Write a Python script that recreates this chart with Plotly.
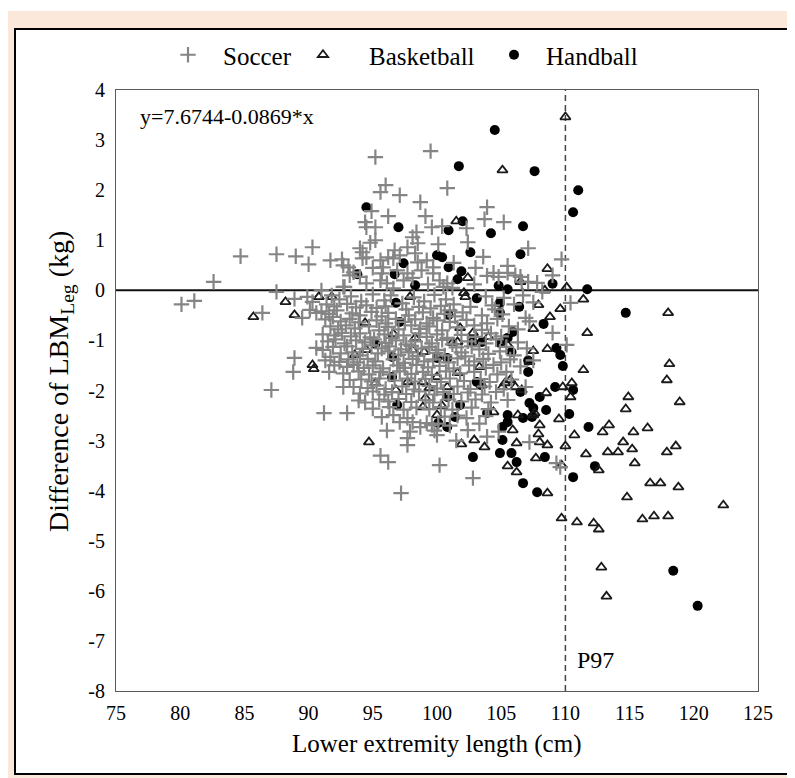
import plotly.graph_objects as go

# ---------------- data ----------------
soccer_x = [
    80.1, 81.1, 82.6, 84.7, 87.5, 89.0, 90.3, 90.0, 87.5, 88.9, 86.4, 89.5, 88.9, 88.8, 87.1, 89.9, 90.3, 91.0, 91.8, 92.8, 90.1, 90.6,
    95.2, 99.5, 96.0, 95.6, 97.1, 100.8, 98.7, 94.9, 96.2, 99.1, 94.4, 94.5, 95.2, 95.2, 99.6, 100.4, 103.9, 103.7, 105.2, 102.3, 102.4, 107.1, 103.6, 109.7, 98.4, 100.1,
    91.7, 92.6, 92.7, 93.1, 93.2, 93.5, 94.0, 94.2, 94.2, 94.5, 95.6, 95.8, 95.7, 96.2, 96.7, 96.6, 97.1, 97.7, 98.1, 98.5, 98.3, 98.5, 98.8, 97.7, 97.4, 99.2, 99.7, 99.7, 100.2, 100.8, 100.5, 95.6, 96.1, 96.6, 94.5, 94.0, 92.7, 103.9, 104.4, 104.8, 105.5, 105.5, 106.1, 106.5, 106.6, 107.1, 107.8, 109.0, 108.2, 103.0, 101.3, 102.9, 98.1, 99.3, 95.0, 94.8, 96.9, 101.2,
    92.4, 93.3, 94.1, 95.0, 95.9, 96.4, 97.3, 98.2, 99.0, 99.8, 100.7, 101.3, 103.8, 104.3, 105.2, 106.7, 107.5, 91.4, 92.0, 93.0, 93.7, 94.5, 95.3, 96.0, 97.6, 98.6, 99.5, 100.3, 101.0, 102.6, 104.5, 106.0, 110.4,
    91.0, 91.6, 92.2, 93.4, 94.0, 94.9, 95.7, 96.2, 97.8, 98.9, 99.7, 100.6, 101.4, 102.0, 103.5, 105.1, 106.9, 91.3, 91.9, 92.5, 93.2, 93.9, 95.3, 96.0, 96.8, 97.5, 98.3, 99.2, 100.0, 101.0, 102.3, 103.9, 104.7, 107.2,
    91.7, 92.3, 92.9, 93.6, 94.7, 95.5, 96.2, 97.0, 98.0, 98.7, 99.4, 100.4, 101.6, 102.9, 103.5, 105.6, 106.3, 109.0, 91.1, 92.0, 92.6, 93.3, 94.0, 94.8, 95.9, 96.5, 97.4, 98.6, 99.2, 100.0, 100.8, 101.9, 103.0, 104.2, 105.0,
    91.5, 92.1, 92.8, 93.7, 94.4, 95.1, 96.0, 96.8, 97.6, 98.3, 99.6, 100.4, 101.2, 102.4, 103.8, 104.6, 106.3, 90.6, 91.1, 91.9, 93.0, 94.2, 94.9, 95.7, 96.3, 97.2, 98.0, 98.8, 99.4, 100.1, 101.5, 102.7, 103.3, 105.4, 107.0,
    91.7, 92.5, 93.4, 94.0, 95.4, 96.2, 97.0, 97.8, 98.5, 99.9, 100.6, 101.9, 102.2, 104.0, 104.9, 106.0, 91.3, 92.4, 93.1, 93.8, 94.6, 95.2, 96.6, 97.4, 98.1, 99.0, 99.7, 100.9, 101.6, 102.9, 103.6, 105.0, 105.7, 107.5,
    92.0, 93.0, 93.5, 94.3, 95.0, 95.8, 96.9, 97.5, 98.4, 99.3, 100.2, 101.3, 102.5, 103.8, 104.4, 106.5, 91.6, 92.7, 93.2, 93.9, 94.7, 95.6, 96.3, 97.1, 98.0, 98.9, 99.6, 100.7, 101.8, 102.9, 104.7, 105.4,
    93.5, 92.7, 94.1, 94.9, 95.5, 96.7, 97.7, 98.3, 99.1, 100.3, 101.0, 102.1, 103.4, 104.1, 105.8, 94.6, 95.3, 96.0, 97.3, 98.2, 99.4, 100.0, 101.6, 102.6, 103.7, 105.2, 106.9,
    94.0, 95.0, 95.9, 96.5, 97.6, 98.6, 99.8, 100.5, 101.3, 102.4, 103.5, 104.6, 93.9, 94.4, 95.5, 96.2, 97.0, 98.0, 99.1, 99.7, 100.9, 101.9, 103.0, 104.2, 105.5,
    95.0, 96.3, 97.4, 98.4, 99.4, 100.3, 101.2, 102.7, 104.0, 93.0, 91.2, 95.7, 96.6, 97.1, 97.7, 98.1, 98.7, 99.2, 99.6, 100.6, 101.6, 102.3, 103.8,
    100.1, 101.0, 103.3, 96.1, 97.9, 99.8, 102.4, 104.8, 97.7, 97.7, 100.0, 101.5, 103.9, 95.6, 96.2, 100.2, 102.8, 97.2, 109.3, 109.6, 107.2, 110.1,
]
soccer_y = [
    -0.28, -0.21, 0.17, 0.68, 0.72, 0.68, 0.86, 0.52, -0.03, -0.17, -0.45, -0.55, -1.35, -1.63, -1.99, -0.13, -0.23, 0.00, -0.10, 0.07, -0.39, -0.45,
    2.66, 2.78, 2.10, 1.96, 1.90, 2.04, 1.76, 1.58, 1.48, 1.48, 1.36, 1.26, 1.26, 1.00, 1.26, 1.28, 1.66, 1.42, 1.36, 1.24, 0.96, 0.84, 0.67, 0.62, 1.16, 0.92,
    0.60, 0.62, 0.50, 0.46, 0.30, 0.36, 0.84, 0.76, 0.64, 0.66, 0.60, 0.46, 0.34, 0.66, 0.80, 0.64, 0.70, 0.86, 1.06, 0.94, 0.74, 0.56, 0.40, 0.34, 0.20, 0.60, 0.46, 0.34, 0.20, 0.14, 0.07, 0.20, 0.14, 0.04, 0.14, 0.27, 0.07, 0.29, 0.35, 0.27, 0.49, 0.35, 0.30, 0.27, 0.17, 0.17, 0.15, 0.30, -0.03, 0.45, 0.55, 0.12, 0.25, 0.12, 0.45, 0.95, 0.40, 0.05,
    -0.18, -0.12, -0.22, -0.08, -0.20, -0.10, -0.26, -0.14, -0.22, -0.09, -0.18, -0.28, -0.12, -0.30, -0.15, -0.10, -0.24, -0.28, -0.32, -0.27, -0.34, -0.30, -0.35, -0.32, -0.38, -0.33, -0.36, -0.31, -0.40, -0.33, -0.38, -0.28, -0.25,
    -0.42, -0.47, -0.40, -0.46, -0.50, -0.43, -0.52, -0.45, -0.50, -0.44, -0.55, -0.47, -0.52, -0.44, -0.50, -0.48, -0.55, -0.58, -0.53, -0.62, -0.57, -0.64, -0.60, -0.66, -0.57, -0.63, -0.58, -0.66, -0.60, -0.63, -0.59, -0.66, -0.57, -0.62,
    -0.72, -0.78, -0.70, -0.76, -0.72, -0.80, -0.73, -0.78, -0.70, -0.77, -0.72, -0.80, -0.74, -0.70, -0.79, -0.72, -0.78, -0.85, -0.88, -0.90, -0.85, -0.92, -0.86, -0.94, -0.88, -0.95, -0.90, -0.86, -0.93, -0.88, -0.95, -0.89, -0.93, -0.86, -0.92,
    -1.02, -0.98, -1.06, -1.00, -1.04, -0.98, -1.05, -1.00, -1.08, -1.02, -1.06, -0.99, -1.08, -1.02, -1.06, -0.98, -1.04, -1.15, -1.19, -1.13, -1.12, -1.17, -1.10, -1.16, -1.12, -1.18, -1.11, -1.16, -1.13, -1.19, -1.14, -1.12, -1.18, -1.13, -1.16,
    -1.33, -1.26, -1.24, -1.30, -1.26, -1.22, -1.29, -1.24, -1.31, -1.25, -1.30, -1.24, -1.32, -1.27, -1.22, -1.30, -1.40, -1.43, -1.38, -1.44, -1.37, -1.42, -1.38, -1.45, -1.37, -1.42, -1.38, -1.44, -1.36, -1.42, -1.37, -1.44, -1.38, -1.40,
    -1.50, -1.53, -1.49, -1.55, -1.50, -1.56, -1.50, -1.55, -1.49, -1.54, -1.51, -1.56, -1.50, -1.55, -1.49, -1.52, -1.63, -1.66, -1.79, -1.62, -1.68, -1.63, -1.68, -1.62, -1.67, -1.63, -1.69, -1.62, -1.66, -1.63, -1.68, -1.63,
    -1.93, -1.93, -1.78, -1.82, -1.76, -1.80, -1.76, -1.82, -1.77, -1.83, -1.76, -1.81, -1.77, -1.83, -1.78, -1.95, -1.90, -1.97, -1.92, -1.98, -1.91, -1.96, -1.92, -1.97, -1.92, -1.97, -1.93,
    -2.06, -2.02, -2.08, -2.03, -2.07, -2.02, -2.08, -2.03, -2.07, -2.04, -2.08, -2.03, -2.20, -2.24, -2.18, -2.22, -2.17, -2.23, -2.19, -2.24, -2.18, -2.22, -2.18, -2.24, -2.19,
    -2.36, -2.33, -2.38, -2.34, -2.37, -2.33, -2.38, -2.34, -2.37, -2.45, -2.45, -2.53, -2.49, -2.63, -2.55, -2.63, -2.73, -2.65, -2.69, -2.52, -2.50, -2.55, -2.51,
    -2.66, -2.70, -2.66, -2.80, -2.82, -2.80, -2.79, -2.82, -2.95, -3.09, -2.89, -3.00, -2.92, -3.30, -3.43, -3.49, -3.75, -4.05, -3.45, -3.53, -3.03, -1.09,
]

basketball_x = [
    110.0, 105.1, 101.5, 108.6, 102.4, 106.5, 108.4, 110.1, 111.4, 102.1,
    88.2, 85.7, 88.9, 90.8, 91.8, 90.3, 90.4, 93.6, 95.2, 96.8,
    97.7, 94.4, 96.6, 98.3, 94.5, 94.7, 98.9, 99.4, 99.1, 98.9,
    100.4, 100.0, 98.1, 99.0, 100.0, 101.2, 101.6, 101.8, 102.2, 101.6,
    101.9, 100.8, 97.9, 107.9, 109.6, 108.8, 107.5, 111.7, 104.0, 102.8,
    105.5, 107.5, 108.6, 107.2, 111.4, 103.3, 105.7, 105.1, 106.1, 106.6,
    103.5, 105.3, 109.8, 110.5, 110.4, 108.5, 107.6, 109.5, 112.9, 113.4,
    110.7, 108.0, 107.9, 108.0, 108.6, 105.9, 106.2, 106.3, 104.4, 103.7,
    102.9, 105.5, 106.2, 107.7, 110.0, 111.6, 113.3, 114.1, 112.6, 109.7,
    108.6, 118.0, 118.1, 117.9, 114.9, 114.7, 118.9, 115.3, 116.4, 114.5,
    115.2, 117.9, 118.6, 115.4, 116.6, 117.4, 118.8, 114.8, 122.3, 116.0,
    116.9, 118.0, 109.7, 110.9, 112.2, 112.6, 112.8, 113.2, 107.5,
]
basketball_y = [
    3.46, 2.40, 1.38, 0.43, 0.25, 0.17, 0.00, 0.06, -0.18, -0.05,
    -0.23, -0.53, -0.49, -0.13, -0.13, -1.49, -1.57, -1.29, -1.85, -1.99,
    -1.83, -0.65, -0.87, -0.95, -1.19, -3.03, -1.83, -1.95, -2.15, -2.33,
    -2.31, -2.49, -1.19, -1.23, -1.73, -1.05, -1.03, -0.75, -0.13, -1.65,
    -3.07, -1.93, -0.13, -0.29, -0.37, -0.53, -0.77, -0.85, -0.93, -0.85,
    -1.09, -1.21, -1.17, -1.43, -1.59, -1.53, -1.79, -1.93, -1.93, -1.99,
    -1.89, -1.85, -1.93, -1.85, -2.13, -2.05, -2.45, -2.57, -2.83, -2.69,
    -2.89, -2.69, -2.87, -3.03, -3.09, -2.79, -3.05, -2.49, -2.43, -3.13,
    -2.99, -3.51, -3.63, -3.35, -3.11, -3.27, -3.23, -3.23, -3.59, -3.49,
    -4.05, -0.45, -1.47, -1.79, -2.13, -2.37, -2.23, -2.83, -2.75, -3.03,
    -3.17, -3.23, -3.11, -3.45, -3.85, -3.85, -3.93, -4.13, -4.29, -4.57,
    -4.51, -4.51, -4.55, -4.63, -4.65, -4.77, -5.53, -6.11, -2.49,
]

handball_x = [
    104.5, 101.7, 107.6, 111.0, 110.6, 94.5, 97.0, 102.0, 100.9, 104.2,
    106.7, 102.6, 106.5, 97.4, 100.0, 100.4, 100.9, 101.9, 101.6, 93.8,
    96.7, 98.3, 104.8, 105.5, 109.0, 111.7, 103.1, 96.8, 97.1, 95.2,
    96.5, 96.5, 96.9, 100.9, 106.4, 104.9, 104.9, 108.3, 105.9, 105.5,
    102.8, 103.5, 104.9, 105.8, 109.3, 109.6, 107.1, 109.8, 107.1, 103.1,
    103.4, 109.2, 110.6, 108.0, 106.5, 107.2, 107.5, 108.5, 110.3, 111.8,
    105.1, 105.1, 103.9, 105.5, 105.5, 106.7, 107.4, 102.8, 104.9, 105.8,
    106.2, 106.7, 108.4, 112.3, 110.6, 107.8, 114.7, 118.4, 120.3, 100.8,
    101.8, 101.4, 100.8, 100.1, 100.0, 100.8,
]
handball_y = [
    3.20, 2.48, 2.38, 2.00, 1.56, 1.66, 1.26, 1.38, 1.20, 1.14,
    1.28, 0.76, 0.72, 0.54, 0.70, 0.66, 0.46, 0.38, 0.22, 0.32,
    0.32, 0.10, 0.09, 0.02, 0.13, 0.02, -0.16, -0.25, -0.63, -1.07,
    -1.33, -1.73, -2.29, -0.49, -0.33, -0.25, -0.45, -0.67, -0.83, -0.95,
    -1.03, -1.03, -1.05, -1.23, -1.15, -1.29, -1.40, -1.51, -1.63, -1.83,
    -1.89, -1.93, -1.99, -2.13, -2.03, -2.25, -2.35, -2.39, -2.47, -2.73,
    -2.73, -2.99, -2.45, -2.49, -2.63, -2.55, -2.53, -3.33, -3.25, -3.25,
    -3.43, -3.85, -3.33, -3.51, -3.73, -4.03, -0.45, -5.60, -6.30, -2.13,
    -2.29, -2.53, -2.73, -2.65, -1.35, -1.35,
]

assert len(soccer_x) == len(soccer_y)
assert len(basketball_x) == len(basketball_y)
assert len(handball_x) == len(handball_y)

x_tick_vals = [75, 80, 85, 90, 95, 100, 105, 110, 115, 120, 125]
x_tick_text = ["75", "80", "85", "90", "95", "100", "105", "110", "115", "120", "125"]
y_tick_vals = [4, 3, 2, 1, 0, -1, -2, -3, -4, -5, -6, -7, -8]
y_tick_text = ["4", "3", "2", "1", "0", "-1", "-2", "-3", "-4", "-5", "-6", "-7", "-8"]
x_range = [75, 125]
y_range = [-8, 4]
p97_value = 110
reference_level = 0
fit_label = "y=7.6744-0.0869*x"
x_title = "Lower extremity length (cm)"
y_title = "Difference of LBM<sub>Leg</sub> (kg)"

# ---------------- figure ----------------
# The page body has an 8px margin, so the figure is offset by 8px; all
# layout positions below are given in screen pixels and shifted back.
OFF = 8
W, H = 795 - OFF, 778 - OFF
L, R, T, B = 116 - OFF, 758 - OFF, 90 - OFF, 691 - OFF   # plot area (figure px)
PW, PH = R - L, B - T


def px(xs):
    """screen x pixel -> paper x"""
    return (xs - OFF - L) / PW


def py(ys):
    """screen y pixel -> paper y"""
    return (B - (ys - OFF)) / PH


FONT = "Liberation Serif, Times New Roman, serif"
PEACH = "#FCE8DA"

fig = go.Figure()

fig.add_trace(go.Scatter(
    x=handball_x, y=handball_y, mode="markers", name="Handball",
    marker=dict(symbol="circle", size=10, color="black", line=dict(width=0)),
    legend="legend3",
))
fig.add_trace(go.Scatter(
    x=basketball_x, y=basketball_y, mode="markers", name="Basketball",
    marker=dict(symbol="triangle-up-open", size=9, color="#1a1a1a", line=dict(width=1.8, color="#1a1a1a")),
    legend="legend2",
))
fig.add_trace(go.Scatter(
    x=soccer_x, y=soccer_y, mode="markers", name="Soccer",
    marker=dict(symbol="cross-thin-open", size=11, color="#858585", line=dict(width=2.2, color="#858585")),
    legend="legend",
))

shapes = [
    # peach page background
    dict(type="rect", xref="paper", yref="paper", x0=px(0), x1=px(830), y0=py(830), y1=py(11),
         fillcolor=PEACH, line=dict(width=0), layer="below"),
    # white framed panel
    dict(type="rect", xref="paper", yref="paper", x0=px(15), x1=px(840), y0=py(774), y1=py(29),
         fillcolor="white", line=dict(width=2, color="black"), layer="below"),
    # zero line
    dict(type="line", xref="x", yref="y", x0=x_range[0], x1=x_range[1], y0=reference_level, y1=reference_level,
         line=dict(width=2, color="#111111"), layer="below"),
    # P97 dashed line
    dict(type="line", xref="x", yref="y", x0=p97_value, x1=p97_value, y0=y_range[0], y1=y_range[1],
         line=dict(width=1.5, color="#444444", dash="6px,4px"), layer="below"),
]

annotations = [
    dict(text=fit_label, xref="paper", yref="paper", x=px(138), y=py(117), xanchor="left", yanchor="middle",
         showarrow=False, font=dict(family=FONT, size=22, color="black")),
    dict(text="P97", xref="x", yref="y", x=p97_value + 0.75, y=-7.38, xanchor="left", yanchor="middle",
         showarrow=False, font=dict(family=FONT, size=24, color="black")),
    dict(text=x_title, xref="paper", yref="paper", x=px(436), y=py(744), xanchor="center", yanchor="middle",
         showarrow=False, font=dict(family=FONT, size=25, color="black")),
    dict(text=y_title, xref="paper", yref="paper", x=px(60), y=py(382), xanchor="center", yanchor="middle",
         textangle=-90, showarrow=False, font=dict(family=FONT, size=28, color="black")),
]

axis_common = dict(
    showgrid=False, zeroline=False, showline=True, mirror=True,
    linecolor="#5a5a5a", linewidth=1.2, ticks="",
    tickfont=dict(family=FONT, size=20, color="black"),
)

legend_common = dict(
    orientation="h", yanchor="middle", y=py(55), xanchor="left",
    bgcolor="rgba(0,0,0,0)", borderwidth=0,
    font=dict(family=FONT, size=25, color="black"),
)

# legend symbol centre = left + 5 + itemwidth/2 ; text starts at left + itemwidth + 10
fig.update_layout(
    width=W, height=H,
    margin=dict(l=L, r=W - R, t=T, b=H - B, pad=0),
    paper_bgcolor="white", plot_bgcolor="white",
    xaxis=dict(range=x_range, tickvals=x_tick_vals, ticktext=x_tick_text, ticklabelstandoff=4, **axis_common),
    yaxis=dict(range=y_range, tickvals=y_tick_vals, ticktext=y_tick_text, ticklabelstandoff=6, **axis_common),
    shapes=shapes, annotations=annotations,
    showlegend=True,
    legend=dict(x=px(153), itemwidth=60, **legend_common),
    legend2=dict(x=px(277), itemwidth=82, **legend_common),
    legend3=dict(x=px(482), itemwidth=54, **legend_common),
    font=dict(family=FONT, color="black"),
)

fig.write_html("out.html")
